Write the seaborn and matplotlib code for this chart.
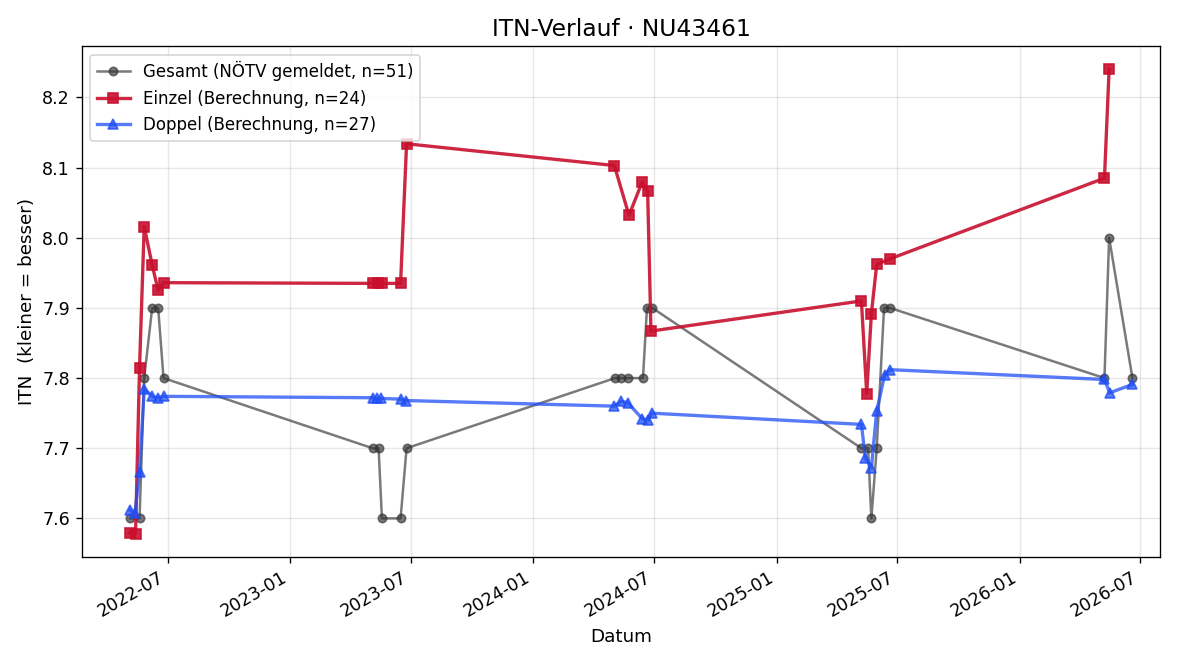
import pandas as pd
import matplotlib
matplotlib.use("Agg")
import matplotlib.pyplot as plt
import matplotlib.dates as mdates
import seaborn as sns

# Gesamt (NÖTV gemeldet)
gesamt_dates = ["2022-05-06", "2022-05-20", "2022-05-27", "2022-06-08", "2022-06-17", "2022-06-25",
                "2023-05-05", "2023-05-14", "2023-05-19", "2023-06-16", "2023-06-25",
                "2024-05-03", "2024-05-12", "2024-05-23", "2024-06-14", "2024-06-20", "2024-06-28",
                "2025-05-08", "2025-05-18", "2025-05-23", "2025-05-31", "2025-06-11", "2025-06-20",
                "2026-05-08", "2026-05-15", "2026-06-19"]
gesamt_itn = [7.6, 7.6, 7.8, 7.9, 7.9, 7.8,
              7.7, 7.7, 7.6, 7.6, 7.7,
              7.8, 7.8, 7.8, 7.8, 7.9, 7.9,
              7.7, 7.7, 7.6, 7.7, 7.9, 7.9,
              7.8, 8.0, 7.8]

# Einzel (Berechnung)
einzel_dates = ["2022-05-05", "2022-05-14", "2022-05-20", "2022-05-27", "2022-06-08", "2022-06-17", "2022-06-25",
                "2023-05-05", "2023-05-13", "2023-05-19", "2023-06-16", "2023-06-25",
                "2024-05-02", "2024-05-24", "2024-06-13", "2024-06-21", "2024-06-26",
                "2025-05-08", "2025-05-16", "2025-05-23", "2025-05-31", "2025-06-20",
                "2026-05-08", "2026-05-15"]
einzel_itn = [7.579, 7.578, 7.815, 8.016, 7.961, 7.925, 7.936,
              7.935, 7.935, 7.935, 7.935, 8.134,
              8.103, 8.032, 8.080, 8.066, 7.867,
              7.910, 7.778, 7.892, 7.962, 7.970,
              8.085, 8.240]

# Doppel (Berechnung)
doppel_dates = ["2022-05-05", "2022-05-13", "2022-05-20", "2022-05-27", "2022-06-08", "2022-06-16", "2022-06-25",
                "2023-05-05", "2023-05-12", "2023-05-17", "2023-06-16", "2023-06-24",
                "2024-05-02", "2024-05-12", "2024-05-22", "2024-06-13", "2024-06-22", "2024-06-27",
                "2025-05-08", "2025-05-14", "2025-05-23", "2025-05-31", "2025-06-12", "2025-06-20",
                "2026-05-08", "2026-05-16", "2026-06-19"]
doppel_itn = [7.612, 7.607, 7.666, 7.785, 7.774, 7.772, 7.774,
              7.772, 7.771, 7.771, 7.770, 7.768,
              7.760, 7.767, 7.765, 7.742, 7.740, 7.750,
              7.734, 7.686, 7.672, 7.753, 7.805, 7.812,
              7.798, 7.779, 7.791]

fig, ax = plt.subplots(figsize=(10, 5.5), dpi=120)

series = [
    (gesamt_dates, gesamt_itn, "Gesamt (NÖTV gemeldet, n=51)", "#333333", "o", 1.5, 5, 0.65),
    (einzel_dates, einzel_itn, "Einzel (Berechnung, n=24)", "#c8102e", "s", 2.0, 6, 0.9),
    (doppel_dates, doppel_itn, "Doppel (Berechnung, n=27)", "#1f4ef5", "^", 2.0, 6, 0.75),
]
for d, v, lab, col, mk, lw, ms, a in series:
    sns.lineplot(x=pd.to_datetime(d), y=v, ax=ax, label=lab, color=col, marker=mk,
                 linewidth=lw, markersize=ms, alpha=a, estimator=None, sort=False,
                 markeredgecolor=col, markeredgewidth=1)

ax.set_xlim(pd.Timestamp("2022-02-22"), pd.Timestamp("2026-07-31"))
ax.xaxis.set_major_locator(mdates.MonthLocator(bymonth=[1, 7]))
ax.xaxis.set_major_formatter(mdates.DateFormatter("%Y-%m"))
ax.tick_params(labelsize=10.5)
ax.grid(True, alpha=0.3)
ax.set_title("ITN-Verlauf · NU43461", fontsize=14)
ax.set_xlabel("Datum", fontsize=11)
ax.set_ylabel("ITN  (kleiner = besser)", fontsize=11)
ax.legend(loc="upper left", fontsize=10)
fig.autofmt_xdate()
fig.subplots_adjust(left=0.068, right=0.967, top=0.930, bottom=0.156)
fig.savefig("out.png")
